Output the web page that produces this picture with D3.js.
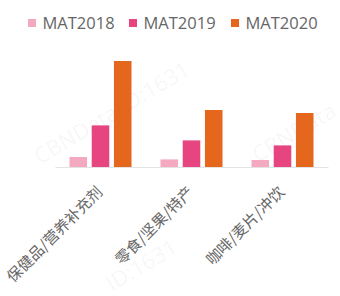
<!DOCTYPE html>
<html>
<head>
<meta charset="utf-8">
<script src="https://cdn.jsdelivr.net/npm/d3@7"></script>
<style>
  body { margin: 0; background: #fff; }
  svg { display: block; }
</style>
</head>
<body>
<div id="chart"></div>
<script>
// categories and series (relative units)
const categories = ["保健品/营养补充剂", "零食/坚果/特产", "咖啡/麦片/冲饮"];
const seriesNames = ["MAT2018", "MAT2019", "MAT2020"];
const mat2018 = [10, 7.6, 7];
const mat2019 = [41.6, 26.6, 21.6];
const mat2020 = [106, 57, 54];
const colors = ["#f4a9c0", "#e6457f", "#e5661d"];

const width = 340, height = 296;
const margin = {top: 61, right: 12, bottom: 129, left: 55};

const svg = d3.select("#chart").append("svg")
    .attr("width", width)
    .attr("height", height);

// watermark
const marks = [
    {x: 40, y: 165, t: "CBNData ID:1631"},
    {x: 258, y: 163, t: "CBNData"},
    {x: 112, y: 292, t: "ID:1631"}
];
svg.append("g").selectAll("text")
    .data(marks)
    .enter().append("text")
    .attr("transform", d => "translate(" + d.x + "," + d.y + ") rotate(-31)")
    .attr("font-family", "Open Sans, sans-serif")
    .attr("font-size", 22)
    .attr("fill", "#000")
    .attr("fill-opacity", 0.05)
    .text(d => d.t);

const x0 = d3.scaleBand()
    .domain(categories)
    .range([margin.left, width - margin.right])
    .paddingInner(0);

const x1 = d3.scaleBand()
    .domain(seriesNames)
    .range([0, 62])
    .paddingInner(0.21);

const y = d3.scaleLinear()
    .domain([0, 106])
    .range([height - margin.bottom, margin.top]);

const table = categories.map((c, i) => ({
    cat: c,
    values: [mat2018[i], mat2019[i], mat2020[i]]
}));

// bars
const groups = svg.append("g").selectAll("g")
    .data(table)
    .enter().append("g")
    .attr("transform", d => "translate(" + (x0(d.cat) + x0.bandwidth() / 2 - 31) + ",0)");

groups.selectAll("rect")
    .data(d => d.values.map((v, j) => ({name: seriesNames[j], value: v, j: j})))
    .enter().append("rect")
    .attr("x", d => x1(d.name))
    .attr("y", d => y(d.value))
    .attr("width", x1.bandwidth())
    .attr("height", d => y(0) - y(d.value))
    .attr("fill", d => colors[d.j]);

// x axis
const xAxis = svg.append("g")
    .attr("transform", "translate(0," + y(0) + ")")
    .call(d3.axisBottom(x0).tickSize(0).tickPadding(0));
xAxis.select(".domain").attr("stroke", "#e3e3e3");
xAxis.selectAll("text")
    .attr("font-family", "Noto Sans CJK SC, sans-serif")
    .attr("font-size", 15.2)
    .attr("fill", "#666")
    .attr("text-anchor", "end")
    .attr("dy", 0)
    .attr("transform", "translate(3,26) rotate(-45)");

// legend
const legendX = [28, 129, 231];
const legend = svg.append("g").selectAll("g")
    .data(seriesNames)
    .enter().append("g")
    .attr("transform", (d, i) => "translate(" + legendX[i] + ",19)");
legend.append("rect")
    .attr("width", 8)
    .attr("height", 8)
    .attr("fill", (d, i) => colors[i]);
legend.append("text")
    .attr("x", 14.5)
    .attr("y", 4)
    .attr("dy", "0.35em")
    .attr("font-family", "Open Sans, sans-serif")
    .attr("font-size", 16.5)
    .attr("fill", "#666")
    .text(d => d);
</script>
</body>
</html>
